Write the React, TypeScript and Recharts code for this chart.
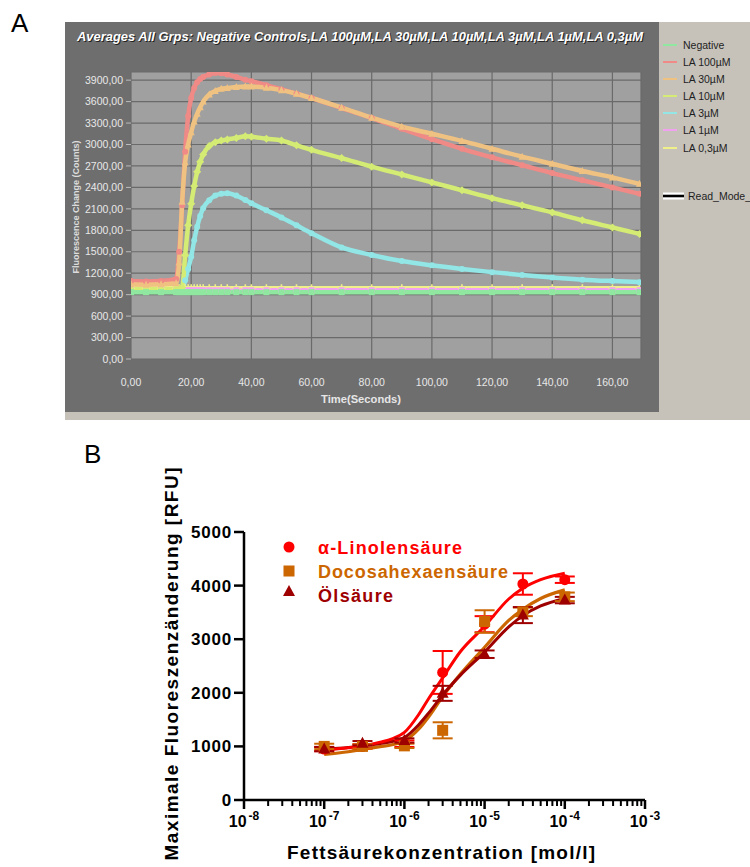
import React from 'react';
import { LineChart, Line, XAxis, YAxis, CartesianGrid, ComposedChart, Scatter, ErrorBar } from 'recharts';

const FONT = '"Liberation Sans", Arial, Helvetica, sans-serif';

// ---------------- Panel A data ----------------
const timeSec = [0, 5, 10, 15, 16, 17, 18, 19, 20, 21, 22, 23, 24, 26, 28, 30, 32, 35, 38, 40, 45, 50, 55, 60, 70, 80, 90, 100, 110, 120, 130, 140, 150, 160, 169];
const negativeCtrl = [935, 935, 935, 935, 935, 935, 935, 935, 935, 935, 935, 935, 935, 935, 935, 935, 935, 935, 935, 935, 935, 935, 935, 935, 935, 935, 935, 935, 935, 935, 935, 935, 935, 935, 935];
const la100 = [1090, 1085, 1090, 1120, 1500, 2150, 2900, 3400, 3650, 3790, 3870, 3915, 3945, 3980, 4000, 3995, 3980, 3945, 3905, 3885, 3830, 3770, 3710, 3650, 3510, 3370, 3220, 3075, 2940, 2820, 2710, 2600, 2500, 2400, 2310];
const la30 = [1045, 1040, 1045, 1060, 1350, 2200, 2750, 3000, 3170, 3320, 3430, 3520, 3600, 3700, 3750, 3780, 3790, 3805, 3810, 3810, 3795, 3760, 3710, 3650, 3515, 3375, 3250, 3150, 3050, 2940, 2830, 2730, 2630, 2540, 2450];
const la10 = [975, 975, 975, 980, 985, 1000, 1450, 1870, 2170, 2420, 2620, 2760, 2860, 2980, 3030, 3055, 3070, 3090, 3115, 3110, 3080, 3055, 2990, 2925, 2810, 2690, 2580, 2470, 2360, 2250, 2150, 2050, 1940, 1840, 1750];
const la3 = [960, 960, 960, 960, 960, 965, 1100, 1260, 1430, 1660, 1850, 2000, 2110, 2220, 2285, 2310, 2318, 2285, 2225, 2180, 2080, 1980, 1870, 1760, 1560, 1455, 1370, 1310, 1260, 1215, 1175, 1140, 1110, 1090, 1075];
const la1 = [962, 962, 962, 962, 962, 962, 962, 962, 962, 962, 962, 962, 962, 962, 962, 962, 962, 962, 962, 962, 962, 962, 962, 962, 962, 962, 962, 962, 962, 962, 962, 962, 962, 962, 962];
const la03 = [990, 990, 990, 990, 990, 990, 990, 990, 990, 990, 990, 990, 990, 990, 990, 990, 990, 990, 990, 990, 990, 990, 990, 990, 990, 990, 990, 990, 990, 990, 990, 990, 990, 990, 990];

const timeTicks = [0, 20, 40, 60, 80, 100, 120, 140, 160];
const fluorTicks = [0, 300, 600, 900, 1200, 1500, 1800, 2100, 2400, 2700, 3000, 3300, 3600, 3900];

const legendNamesA = ['Negative', 'LA 100µM', 'LA 30µM', 'LA 10µM', 'LA 3µM', 'LA 1µM', 'LA 0,3µM'];
const legendColorsA = ['#90e8a0', '#f08a86', '#f0c282', '#d4ec74', '#92e6e6', '#f0a2f0', '#f0f088'];

const tableA = timeSec.map((t, i) => ({
  t,
  neg: negativeCtrl[i],
  la100: la100[i],
  la30: la30[i],
  la10: la10[i],
  la3: la3[i],
  la1: la1[i],
  la03: la03[i],
}));

// ---------------- Panel B data ----------------
const concMolL = [1e-7, 3e-7, 1e-6, 3e-6, 1e-5, 3e-5, 1e-4];
const alaMean = [950, 1000, 1050, 2380, 3280, 4030, 4110];
const alaErr = [40, 40, 60, 400, 150, 200, 60];
const dhaMean = [1000, 1000, 1010, 1300, 3330, 3510, 3790];
const dhaErr = [50, 40, 40, 150, 210, 80, 80];
const oleMean = [950, 1060, 1110, 1990, 2720, 3450, 3730];
const oleErr = [40, 40, 40, 140, 70, 150, 60];

const fitConc = [1e-7, 2e-7, 3e-7, 5e-7, 7e-7, 1e-6, 1.5e-6, 2e-6, 3e-6, 5e-6, 1e-5, 2e-5, 3e-5, 5e-5, 1e-4];
const alaFit = [930, 975, 1010, 1080, 1140, 1260, 1590, 1890, 2280, 2770, 3240, 3750, 3950, 4110, 4230];
const dhaFit = [850, 900, 945, 995, 1030, 1100, 1320, 1550, 1930, 2350, 2850, 3350, 3560, 3760, 3920];
const oleFit = [950, 980, 1010, 1055, 1090, 1165, 1400, 1620, 1960, 2330, 2760, 3230, 3440, 3620, 3760];

const majorDecades = [1e-8, 1e-7, 1e-6, 1e-5, 1e-4, 1e-3];
const minorMultipliers = [2, 3, 4, 5, 6, 7, 8, 9];
const rfuTicks = [0, 1000, 2000, 3000, 4000, 5000];

const COL_ALA = '#ff0000';
const COL_DHA = '#cc6600';
const COL_OLE = '#9e0000';

const concTicks: number[] = [];
majorDecades.forEach((d, i) => {
  concTicks.push(d);
  if (i < majorDecades.length - 1) minorMultipliers.forEach((m) => concTicks.push(m * d));
});

const fitTable = fitConc.map((x, i) => ({ x, ala: alaFit[i], dha: dhaFit[i], ole: oleFit[i] }));
const mk = (mean: number[], err: number[]) => concMolL.map((x, i) => ({ x, y: mean[i], err: err[i] }));
const alaPts = mk(alaMean, alaErr);
const dhaPts = mk(dhaMean, dhaErr);
const olePts = mk(oleMean, oleErr);

// ---------------- helpers ----------------
function markerDot(shape: string, color: string, r: number) {
  return (p: any) => {
    const { cx, cy, index } = p;
    const k = `d${index}`;
    if (typeof cx !== 'number' || typeof cy !== 'number') return <g key={k} />;
    if (shape === 'circle') return <circle key={k} cx={cx} cy={cy} r={r} fill={color} />;
    if (shape === 'triangle')
      return <polygon key={k} points={`${cx},${cy - r - 1} ${cx - r - 0.5},${cy + r} ${cx + r + 0.5},${cy + r}`} fill={color} />;
    if (shape === 'diamond')
      return <polygon key={k} points={`${cx},${cy - r - 1} ${cx + r + 1},${cy} ${cx},${cy + r + 1} ${cx - r - 1},${cy}`} fill={color} />;
    if (shape === 'square') return <rect key={k} x={cx - r} y={cy - r} width={2 * r} height={2 * r} fill={color} />;
    return <path key={k} d={`M${cx - r - 1},${cy}H${cx + r + 1}M${cx},${cy - r - 1}V${cy + r + 1}`} stroke={color} strokeWidth={1.6} />;
  };
}

const fmtA = (v: number) => v.toFixed(2).replace('.', ',');

const BXTick = (props: any) => {
  const { x, y, payload } = props;
  const v = payload.value as number;
  const lg = Math.log10(v);
  const major = Math.abs(lg - Math.round(lg)) < 1e-6;
  return (
    <g>
      <line x1={x} x2={x} y1={y} y2={y + (major ? 9 : 6)} stroke="#000" strokeWidth={major ? 2.5 : 2} />
      {major && (
        <text x={x} y={y + 27} textAnchor="middle" fontSize={16} fontWeight="bold" fontFamily={FONT} fill="#000">
          <tspan>10</tspan>
          <tspan dx={2} dy={-7} fontSize={12}>{`${Math.round(lg)}`}</tspan>
        </text>
      )}
    </g>
  );
};

const BYTick = (props: any) => {
  const { x, y, payload } = props;
  return (
    <text x={x} y={y} dy={6} textAnchor="end" fontSize={17} fontWeight="bold" fontFamily={FONT} fill="#000" letterSpacing={0.8}>
      {payload.value}
    </text>
  );
};

const circleShape = (color: string) => (p: any) => <circle cx={p.cx} cy={p.cy} r={5.5} fill={color} />;
const squareShape = (color: string) => (p: any) => <rect x={p.cx - 5.5} y={p.cy - 5.5} width={11} height={11} fill={color} />;
const triangleShape = (color: string) => (p: any) => (
  <polygon points={`${p.cx},${p.cy - 6.5} ${p.cx - 6},${p.cy + 4.5} ${p.cx + 6},${p.cy + 4.5}`} fill={color} />
);

export default function App() {
  const seriesA = [
    { key: 'la03', color: legendColorsA[6], shape: 'plus' },
    { key: 'la1', color: legendColorsA[5], shape: 'square' },
    { key: 'la3', color: legendColorsA[4], shape: 'circle' },
    { key: 'la10', color: legendColorsA[3], shape: 'diamond' },
    { key: 'la100', color: legendColorsA[1], shape: 'circle' },
    { key: 'la30', color: legendColorsA[2], shape: 'triangle' },
    { key: 'neg', color: legendColorsA[0], shape: 'square' },
  ];
  return (
    <div style={{ position: 'absolute', left: 0, top: 0, width: 750, height: 867, overflow: 'hidden', background: '#fff', fontFamily: FONT }}>
      {/* Panel A backgrounds */}
      <div style={{ position: 'absolute', left: 65, top: 22, width: 685, height: 398, background: '#c6c2ba' }} />
      <div style={{ position: 'absolute', left: 65, top: 22, width: 594, height: 390, background: '#6e6e6e' }} />
      <div style={{ position: 'absolute', left: 65, top: 22 }}>
        <LineChart width={594} height={390} data={tableA} margin={{ top: 50, right: 18, left: 10, bottom: 23 }}>
          <CartesianGrid stroke="#6a6a6a" strokeWidth={1.2} fill="#a0a0a0" fillOpacity={1} />
          <XAxis
            dataKey="t"
            type="number"
            domain={[0, 169.5]}
            allowDataOverflow
            ticks={timeTicks}
            tickFormatter={fmtA}
            axisLine={false}
            tickLine={false}
            tickMargin={14}
            height={30}
            interval={0}
            tick={{ fill: '#e8e8e8', fontSize: 10.5, fontFamily: FONT }}
          />
          <YAxis
            type="number"
            domain={[0, 4014]}
            allowDataOverflow
            ticks={fluorTicks}
            tickFormatter={fmtA}
            axisLine={false}
            tickLine={{ stroke: '#bcbcbc' }}
            tickSize={5}
            tickMargin={3}
            width={56}
            interval={0}
            tick={{ fill: '#e8e8e8', fontSize: 10.5, fontFamily: FONT }}
          />
          {seriesA.map((s) => (
            <Line
              key={s.key}
              dataKey={s.key}
              type="monotone"
              stroke={s.color}
              strokeWidth={4.5}
              dot={markerDot(s.shape, s.color, 3)}
              activeDot={false}
              isAnimationActive={false}
            />
          ))}
        </LineChart>
      </div>

      {/* Panel B */}
      <div style={{ position: 'absolute', left: 0, top: 440 }}>
        <ComposedChart width={750} height={427} data={fitTable} margin={{ top: 92, right: 105, left: 184, bottom: 37 }}>
          <XAxis
            dataKey="x"
            type="number"
            scale="log"
            domain={[1e-8, 1e-3]}
            allowDataOverflow
            ticks={concTicks}
            interval={0}
            tick={<BXTick />}
            tickLine={false}
            tickSize={0}
            tickMargin={0}
            height={30}
            axisLine={{ stroke: '#000', strokeWidth: 2.5 }}
          />
          <YAxis
            dataKey="y"
            type="number"
            domain={[0, 5000]}
            allowDataOverflow
            ticks={rfuTicks}
            interval={0}
            width={60}
            tick={<BYTick />}
            tickSize={10}
            tickMargin={2}
            tickLine={{ stroke: '#000', strokeWidth: 2.5 }}
            axisLine={{ stroke: '#000', strokeWidth: 2.5 }}
          />
          <Line dataKey="dha" type="monotone" stroke={COL_DHA} strokeWidth={3.2} dot={false} activeDot={false} isAnimationActive={false} />
          <Line dataKey="ole" type="monotone" stroke={COL_OLE} strokeWidth={3} dot={false} activeDot={false} isAnimationActive={false} />
          <Line dataKey="ala" type="monotone" stroke={COL_ALA} strokeWidth={3} dot={false} activeDot={false} isAnimationActive={false} />
          <Scatter data={alaPts} dataKey="y" shape={circleShape(COL_ALA)} isAnimationActive={false}>
            <ErrorBar dataKey="err" direction="y" width={10} stroke={COL_ALA} strokeWidth={2} isAnimationActive={false} />
          </Scatter>
          <Scatter data={dhaPts} dataKey="y" shape={squareShape(COL_DHA)} isAnimationActive={false}>
            <ErrorBar dataKey="err" direction="y" width={10} stroke={COL_DHA} strokeWidth={2} isAnimationActive={false} />
          </Scatter>
          <Scatter data={olePts} dataKey="y" shape={triangleShape(COL_OLE)} isAnimationActive={false}>
            <ErrorBar dataKey="err" direction="y" width={10} stroke={COL_OLE} strokeWidth={2} isAnimationActive={false} />
          </Scatter>
        </ComposedChart>
      </div>

      {/* Text overlay */}
      <svg width={750} height={867} style={{ position: 'absolute', left: 0, top: 0, pointerEvents: 'none' }}>
        <text x={11} y={32} fontSize={26} fontFamily={FONT} fill="#000">A</text>
        <text x={84} y={463} fontSize={26} fontFamily={FONT} fill="#000">B</text>

        {/* Panel A title */}
        <text x={78} y={42} fontSize={12} fontStyle="italic" fontWeight="bold" fontFamily={FONT} fill="#222" textLength={566} lengthAdjust="spacingAndGlyphs">
          Averages All Grps: Negative Controls,LA 100µM,LA 30µM,LA 10µM,LA 3µM,LA 1µM,LA 0,3µM
        </text>
        <text x={77} y={41} fontSize={12} fontStyle="italic" fontWeight="bold" fontFamily={FONT} fill="#ffffff" textLength={566} lengthAdjust="spacingAndGlyphs">
          Averages All Grps: Negative Controls,LA 100µM,LA 30µM,LA 10µM,LA 3µM,LA 1µM,LA 0,3µM
        </text>

        {/* Panel A axis labels */}
        <text
          transform="translate(79,207) rotate(-90)"
          textAnchor="middle"
          fontSize={9.5}
          fontWeight="bold"
          fontFamily={FONT}
          fill="#dcdcdc"
          textLength={133}
          lengthAdjust="spacingAndGlyphs"
        >
          Fluorescence Change (Counts)
        </text>
        <text x={321} y={403} fontSize={10.5} fontWeight="bold" fontFamily={FONT} fill="#e6e6e6" textLength={80} lengthAdjust="spacingAndGlyphs">
          Time(Seconds)
        </text>

        {/* Panel A legend */}
        {legendNamesA.map((n, i) => {
          const ys = [45, 62, 79, 96, 113, 130, 148];
          return (
            <g key={n}>
              <line x1={663} x2={677} y1={ys[i]} y2={ys[i]} stroke={legendColorsA[i]} strokeWidth={2} />
              <text x={683} y={ys[i] + 4} fontSize={10.5} fontFamily={FONT} fill="#1e1e1e">{n}</text>
            </g>
          );
        })}
        <rect x={663} y={192.5} width={21} height={7} fill="#ffffff" />
        <line x1={663} x2={684} y1={196} y2={196} stroke="#000" strokeWidth={2.6} />
        <text x={688} y={200} fontSize={10.5} fontFamily={FONT} fill="#1e1e1e">Read_Mode_</text>

        {/* Panel B legend */}
        <circle cx={289} cy={547} r={5.5} fill={COL_ALA} />
        <rect x={283.5} y={565.5} width={11} height={11} fill={COL_DHA} />
        <polygon points="289,585 283,596 295,596" fill={COL_OLE} />
        <text x={318} y={554} fontSize={18} fontWeight="bold" fontFamily={FONT} fill={COL_ALA} textLength={144} lengthAdjust="spacing">α-Linolensäure</text>
        <text x={318} y={578} fontSize={18} fontWeight="bold" fontFamily={FONT} fill={COL_DHA} textLength={190} lengthAdjust="spacing">Docosahexaensäure</text>
        <text x={318} y={602} fontSize={18} fontWeight="bold" fontFamily={FONT} fill={COL_OLE} textLength={75} lengthAdjust="spacing">Ölsäure</text>

        {/* Panel B axis labels */}
        <text x={287} y={859} fontSize={19} fontWeight="bold" fontFamily={FONT} fill="#000" textLength={308} lengthAdjust="spacing">
          Fettsäurekonzentration [mol/l]
        </text>
        <text
          transform="translate(178,664) rotate(-90)"
          textAnchor="middle"
          fontSize={19}
          fontWeight="bold"
          fontFamily={FONT}
          fill="#000"
          textLength={393}
          lengthAdjust="spacing"
        >
          Maximale Fluoreszenzänderung [RFU]
        </text>
      </svg>
    </div>
  );
}
